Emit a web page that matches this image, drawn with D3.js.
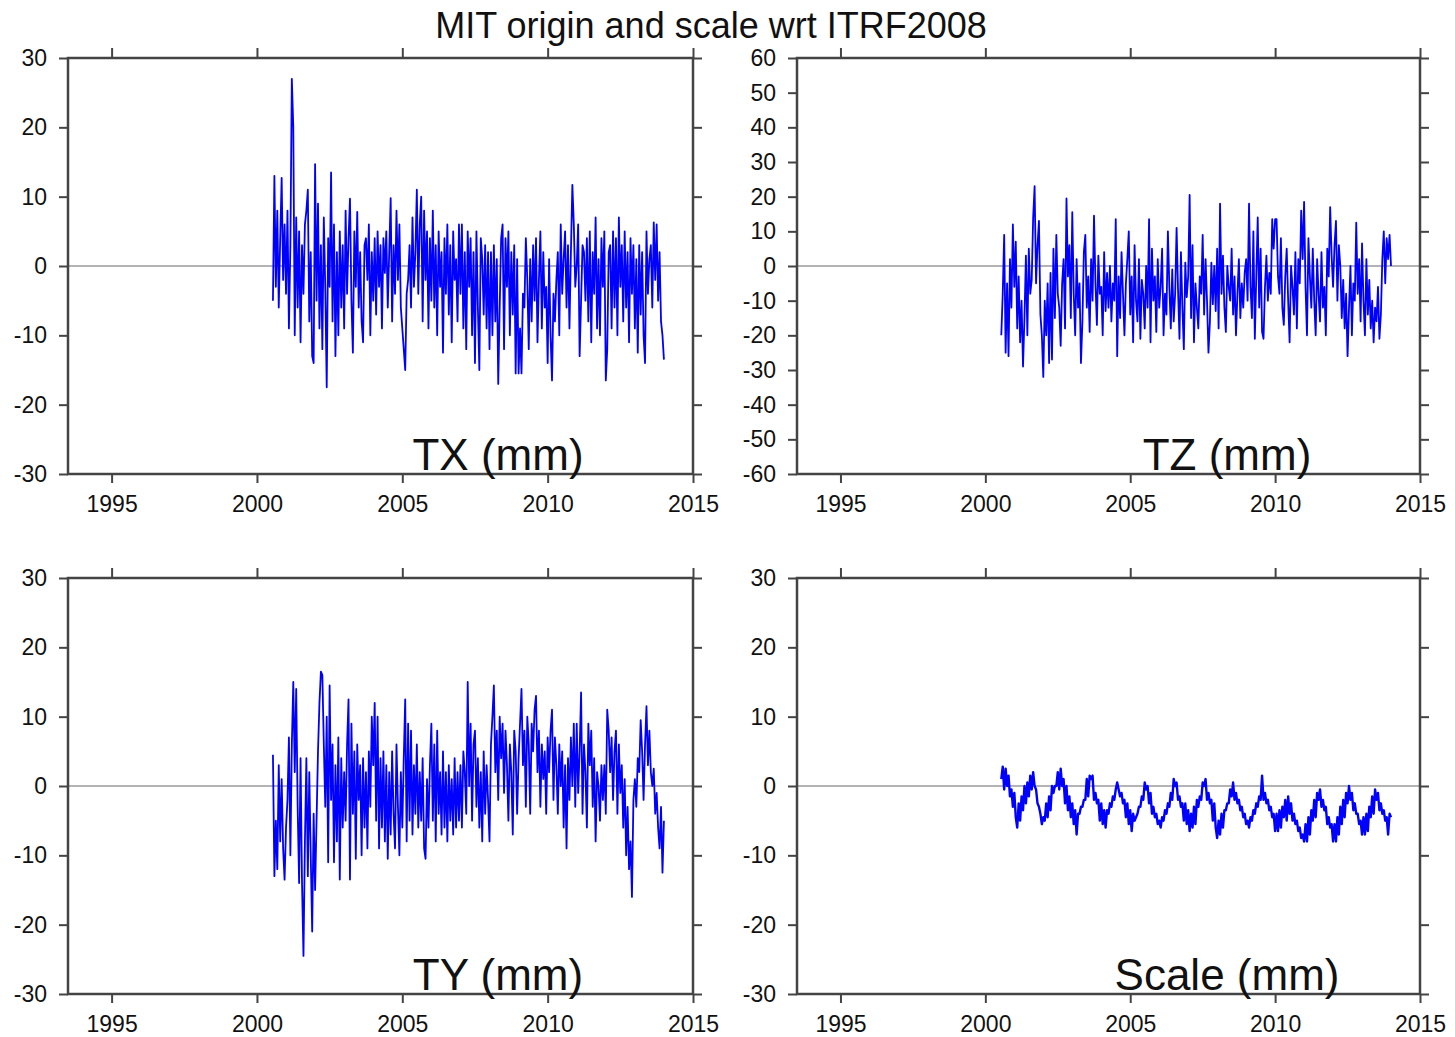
<!DOCTYPE html>
<html><head><meta charset="utf-8">
<script src="https://cdn.jsdelivr.net/npm/d3@7"></script>
<style>
body{margin:0;background:#fff}
svg{display:block}
text{font-family:"Liberation Sans",Arial,Helvetica,sans-serif;fill:#111}
</style>
</head><body>
<svg id="chart" width="1455" height="1037"></svg>
<script>
const chartTitle = "MIT origin and scale wrt ITRF2008";
const yearTicks = [1995, 2000, 2005, 2010, 2015];
const yTicks30 = [-30, -20, -10, 0, 10, 20, 30];
const yTicks60 = [-60, -50, -40, -30, -20, -10, 0, 10, 20, 30, 40, 50, 60];
const panelNames = ["TX (mm)", "TZ (mm)", "TY (mm)", "Scale (mm)"];

// sampling epochs (decimal years), one value every 0.05 yr from 2000.55 to 2014.0
const firstEpoch = 2000.55, epochStep = 0.05;

const txValues = [
  -5, 13, -3, 8, -6, 4, 12.7, -2, 6,
  -4, 8, -9, 3, 27, 20, -10, 7, -6, 5, -11, 3, -4, 6, 8, 11, -8, 2, -13, -14,
  14.7, -5, 9, -9, 3, -12, 7, -3, -17.5, 4, -3, 13.5, -8, 6, -13, 2, -10, 5, -6, 3,
  -9, 8, -4, 4, 9.7, -5, -12.5, 5, -3, 7.8, -6, 2, -8, -11, 3, 4, -2, 6, -10, 2,
  -5, 4, -7, 5, -3, 3, -9, 4, -1, 5, -6, 2, 9.8, -8, 3, -4, 8, -2, 6, -6,
  -9, -12, -15, -4, -2, 3, -6, 7, -3, 2, 11, -4, 6, 10, -8, 8, -2, 5, -9, 4,
  -5, 8, -6, 3, -10, 5, -3, 2, -12.5, 4, -4, 6, -7, 3, -11, 5, -2, 1, -8, 6,
  -4, 6, -9, 2, -12, 5, -3, 4, -10, 2, -14, 5, -6, -15, 4, 1, -7, 3, -9, 2,
  -12, 2, -10, 3, -8, 1, -17, -6, 4, 6, -12, 4, -3, 5, -10, 2, -7, 3, -15.5, 1,
  -15.5, -9, -15.5, -4, -6, 4, -2, -12, 1, -8, 3, -5, 4, -11, -2, 5, -9, 2, -6, -3,
  -14, 1, -10, -16.5, -4, -8, -2, 2, -10, 6, -4, 1, 5, -6, 3, -9, 2, 11.7, 6, -3,
  0, 6, -13, -5, 3, 2, -5, 4, -8, 5, -11, 2, -4, 7, -9, 1, -10, 4, -3, 5,
  -16.5, -12, 2, 3, -9, 5, -6, 4, -10, 7, -3, 3, -8, 5, -6, 2, -11, 4, -4, 3,
  -9, 1, -12.5, 3, -7, 2, -10, -14, 5, -4, 1, 3, -6, 6.3, -2, 6, -5, 2, -8, -10,
  -13.5
];

const tzValues = [
  -20, -8, 9, -25, -5, -26, 2, -12, 12,
  -6, 7, -18, -3, -22, -10, -29, -15, 3, -20, 5, -8, -4, 14, 23, -5, 6, 13, -14, -20,
  -32, -10, -20, -5, -28, -2, -27, 5, -15, 9, -8, -12, -23, -5, 2, -18, 19.5, -3, 6, -15,
  15.5, -8, -20, 2, -12, -5, -28, -16, 4, 9, -12, -3, -19, 2, -10, 14.5, -5, -17, 3, -8,
  -6, -20, 4, -13, -2, -12, 0, -16, -5, -10, 13.5, -26, -3, -15, 4, -8, -20, -5, 2, 10,
  -14, -3, -22, 6, -10, -16, 2, -21, -4, -8, -18, 0, -12, 13.5, -22, 5, -10, -3, -19, 2,
  -12, -6, 5, -20, -8, -14, 10, -6, -18, -1, -16, -8, 11, -7, -21, 4, -12, -24, 1, -9,
  -3, 20.5, -15, 6, -22, -5, -12, -18, -3, -8, 9, -14, 2, -10, -25, -16, 1, -11, 0, -13,
  5, -18, 18, -8, 3, -12, -19, 0, -6, -10, 5, -14, -3, -20, -8, 2, -15, -5, -12, -2,
  2, -10, 18, -6, -15, 10, -21, -3, 14, -12, 5, -19, -21, -6, 3, -10, -2, -8, 13.5, 5,
  13.5, 13.5, -3, -8, 8, -12, -17, -3, 5, -10, -22, 0, -6, -14, 4, -18, 2, -5, 16, 2,
  18.5, -6, -20, 8, -3, -12, 5, -10, -20, 2, -8, -16, 4, -12, -6, -20, 5, -3, 17, 3,
  -6, 6, 13, -10, 6, 0, -15, -4, -18, -8, -26, -12, 0, -20, -5, -10, 12.5, -8, 2, -16,
  6.5, -10, -20, 2, -14, -4, -18, -10, -22, -12, -16, -6, -21, -14, 2, 10, -5, 8, 2, 9,
  0
];

const tyValues = [
  4.5, -13, -5, -12, 3, -8, 1, -9, -13.5,
  -6, -2, 7, -10, 6, 15, 2, 14, -3, -14, 4, -14, -24.5, -8, 4, -13, 2, -10, -21, -4,
  -15, -5, 5, 12, 16.5, 16, 6, -3, 10, -11, 14.5, -2, 6, -11, 3, -8, 7, -13.5, 4, -6,
  2, -5, 6, 12.5, -13.5, 9, -4, 5, -10.5, 6, -2, 3, -10, 4, -6, 2, -9, 5, -3, 10,
  3, 12, -5, 10, -9, 4, -6, 5, -8, 3, -10.5, 2, -7, 5, -4, -9, 6, -3, -10, 2,
  -6, 4, 12.5, -8, 9, -5, 8, -7, 3, -4, 6, -6, 2, -5, 4, -9, -10.5, 1, -6, 3,
  9, -5, 6, -8, 8, -4, 2, -7, 5, -6, 2, -8, 3, -5, 1, -7, 4, -6, 2, -5,
  3, -6, 5, 2, -4, 15, 0, 9, -5, 6, 8, -3, 4, -6, 2, -8, 5, -4, 3, -2,
  -8, 6, 10, 14.5, 2, 8, -2, 10, 4, 9, -1, 8, 3, -5, 6, 2, -7, 8, 5, -4,
  4, 9, 14, 3, 8, -3, 10, 6, -4, 9, 5, 11, 13, 2, 8, -3, 6, 1, 5, -4,
  7, 2, 8, 11, -2, 7, 3, -4, 6, 0, 5, -6, 3, -9, 4, -2, 7, 0, 9, -3,
  9, -1, 5, 13.5, -4, 6, 2, -6, 9, 3, 8, -3, 4, -8, 2, 0, -5, 3, -2, 3,
  -4, 11, 8, 2, 7, -2, 5, 8, -4, 6, -1, 3, -6, 1, -10, -3, -12, -8, -16, -2,
  1, -3, 4, 2, 9.5, 5, -2, 6, 11.5, 3, 8, 2, 0, 2.5, -4, -1, -6, -9, -3, -12.5,
  -5
];

const scaleValues = [
  1, 2.8, -0.5, 2.5, 0, 1.5, -1.5, -0.5, -3,
  -1, -4.5, -6, -2.5, -5, -1.5, -3.5, 0, -2.5, 0.5, -1.5, 1.5, -0.5, 2, 0, -0.5, -2.5, -3, -4, -5.5,
  -4.5, -5, -2.5, -4.5, -1.5, -3.5, 0, -1, 0, 0, 2, -0.5, 2.5, 0, 1, -2.5, 0, -3.5, -1.5, -4.5,
  -2.5, -5.5, -3.5, -7, -4, -4, -3, -3, -2, -2, 1, -1.5, 1.5, 1, 1.5, -2, -1, -2.5, -2, -5,
  -2.5, -5.5, -3.5, -6, -3.5, -4, -2.5, -3, -1.5, -2, -0.5, 0.5, -0.5, -1.5, -1, -2.5, -2, -4.5, -2.5, -5.5,
  -3.5, -6.5, -4, -5, -4.5, -4, -3, -3, -1.5, -2, 0.5, -0.5, 0, -2.5, -1, -4, -3, -4.5, -4, -5.5,
  -5, -6, -4.5, -5, -3.5, -4, -2.5, -3, -1, -2, 1, 0, 0.5, -2, -1.5, -3, -2.5, -5, -2.5, -5.5,
  -3.5, -6.5, -4, -6, -3, -5.5, -2, -3, -1.5, -2, 0.5, 0, 1, -2, -1, -2.5, -2, -5, -2.5, -6,
  -7.5, -5, -7, -4, -6, -3.5, -3.5, -2.5, -2.5, -0.5, -1.5, 0.5, -2, -1, -2.5, -2, -3.5, -3, -4.5, -4,
  -5.5, -5, -6, -4.5, -5, -3.5, -4, -2.5, -3, -1.5, -2, 1.5, -2, -1, -2.5, -2, -3.5, -3, -4.5, -4,
  -6.5, -4, -6.5, -3.5, -6, -3, -4.5, -2, -5, -1.5, -4, -2.5, -5, -4, -5.5, -5, -6.5, -6, -7.5, -7,
  -8, -5.5, -8, -4.5, -7, -3.5, -5, -2, -4.5, -1, -2, -0.5, -3, -2, -3.5, -3, -5.5, -4.5, -6, -5.5,
  -8, -5.5, -8, -4.5, -7, -3, -5.5, -2, -4.5, -1, -2.5, 0, -2, -1, -3.5, -2.5, -4, -4, -5.5, -5,
  -7, -4.5, -7, -4, -6.5, -3, -4.5, -1.5, -4, -0.5, -2, -1, -3.5, -2.5, -4, -3.5, -5, -4.5, -7, -4,
  -4.5
];

const panels = [
  {name: panelNames[0], values: txValues,    yDomain: [-30, 30], yTicks: yTicks30, left: 68,  top: 58,  width: 625},
  {name: panelNames[1], values: tzValues,    yDomain: [-60, 60], yTicks: yTicks60, left: 797, top: 58,  width: 623},
  {name: panelNames[2], values: tyValues,    yDomain: [-30, 30], yTicks: yTicks30, left: 68,  top: 578, width: 625},
  {name: panelNames[3], values: scaleValues, yDomain: [-30, 30], yTicks: yTicks30, left: 797, top: 578, width: 623}
];
const panelHeight = 416;
const frameColor = "#444";
const fontFam = '"Liberation Sans", Arial, Helvetica, sans-serif';
const tickFmt = d => String(d);

const svg = d3.select("#chart");

svg.append("text")
  .attr("x", 711).attr("y", 38)
  .attr("text-anchor", "middle")
  .attr("font-size", 36)
  .text(chartTitle);

panels.forEach((p, pi) => {
  const w = p.width, h = panelHeight;
  const x = d3.scaleLinear().domain([1993.5, 2015]).range([0, w]);
  const y = d3.scaleLinear().domain(p.yDomain).range([h, 0]);
  const g = svg.append("g").attr("transform", `translate(${p.left},${p.top})`);

  const clipId = "clip" + pi;
  g.append("clipPath").attr("id", clipId)
    .append("rect").attr("x", 0).attr("y", 0).attr("width", w).attr("height", h);

  // zero line
  g.append("line")
    .attr("x1", 0).attr("x2", w).attr("y1", y(0)).attr("y2", y(0))
    .attr("stroke", "#9a9a9a").attr("stroke-width", 1.3);

  const pts = p.values.map((v, i) => [firstEpoch + i * epochStep, v]);
  const line = d3.line().x(d => x(d[0])).y(d => y(d[1]));
  g.append("path")
    .datum(pts)
    .attr("clip-path", `url(#${clipId})`)
    .attr("d", line)
    .attr("fill", "none")
    .attr("stroke", "#0000ff")
    .attr("stroke-width", pi === 3 ? 2.4 : 1.8)
    .attr("stroke-linejoin", "round");

  // axes
  const styleAxis = sel => {
    sel.select(".domain").remove();
    sel.selectAll(".tick line").attr("stroke", frameColor).attr("stroke-width", 2);
    sel.selectAll(".tick text").attr("fill", "#111");
    sel.attr("font-size", 23).attr("font-family", fontFam);
  };
  g.append("g").call(d3.axisLeft(y).tickValues(p.yTicks).tickSize(9).tickPadding(12).tickFormat(tickFmt)).call(styleAxis);
  g.append("g").attr("transform", `translate(${w},0)`)
    .call(d3.axisRight(y).tickValues(p.yTicks).tickSize(9).tickFormat("")).call(styleAxis);
  g.append("g").call(d3.axisTop(x).tickValues(yearTicks).tickSize(10).tickFormat("")).call(styleAxis);
  g.append("g").attr("transform", `translate(0,${h})`)
    .call(d3.axisBottom(x).tickValues(yearTicks).tickSize(9).tickPadding(13).tickFormat(tickFmt)).call(styleAxis);

  // frame
  g.append("rect")
    .attr("x", 0).attr("y", 0).attr("width", w).attr("height", h)
    .attr("fill", "none").attr("stroke", frameColor).attr("stroke-width", 2.5);

  // panel label
  g.append("text")
    .attr("x", 430).attr("y", h - 4)
    .attr("text-anchor", "middle")
    .attr("font-size", 44)
    .text(p.name);
});
</script>
</body></html>
